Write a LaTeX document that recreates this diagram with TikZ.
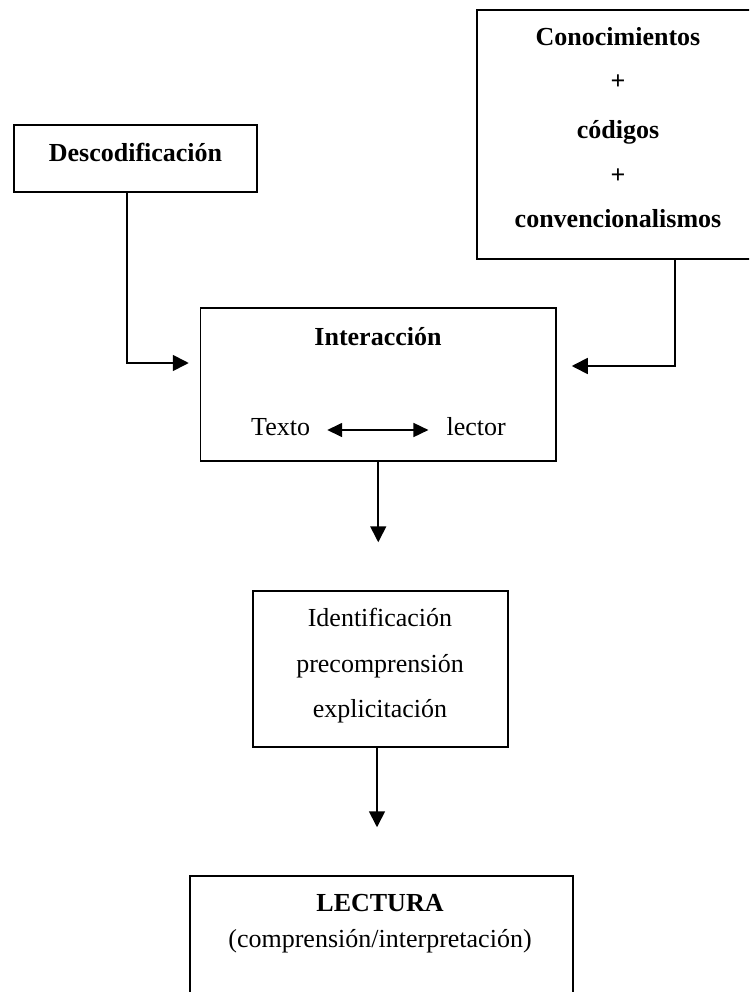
\documentclass[tikz,border=0pt]{standalone}
\usepackage{fontspec}
\setmainfont{Liberation Serif}
\usetikzlibrary{arrows.meta,calc}
\begin{document}
\begin{tikzpicture}[x=1pt,y=-1pt,
  box/.style={draw,line width=1.5pt,inner sep=0pt},
  txt/.style={inner sep=0pt,anchor=base,font=\fontsize{26}{30}\selectfont},
  btxt/.style={txt,font=\fontsize{26}{30}\selectfont\bfseries},
  conn/.style={line width=1.7pt,-{Triangle[length=16pt,width=16pt]}},
  dconn/.style={line width=1.7pt,{Triangle[length=15pt,width=14pt]}-{Triangle[length=15pt,width=14pt]}}]
\useasboundingbox (0,0) rectangle (749,992);
\clip (0,0) rectangle (749,992);
% boxes
\node[box,minimum width=243pt,minimum height=67pt] (desc) at (135.5,158.5) {};
\node[box,minimum width=282pt,minimum height=249pt] (con) at (618,134.5) {};
\node[box,minimum width=355.5pt,minimum height=153pt] (inter) at (378.25,384.5) {};
\node[box,minimum width=255pt,minimum height=156pt] (ident) at (380.5,669) {};
\node[box,minimum width=383pt,minimum height=128pt] (lect) at (381.5,940) {};
% texts
\node[btxt] (tdesc) at (135.5,162) {Descodificación};
\node[btxt] (c1) at (618,46) {Conocimientos};
\node[btxt] (c2) at (618,90) {+};
\node[btxt] (c3) at (618,139) {códigos};
\node[btxt] (c4) at (618,184) {+};
\node[btxt] (c5) at (618,228) {convencionalismos};
\node[btxt] (tinter) at (378,345) {Interacción};
\node[txt,anchor=base west] (texto) at (251,435) {Texto};
\node[txt,anchor=base east] (lector) at (506,435) {lector};
\node[txt] (i1) at (380,626) {Identificación};
\node[txt] (i2) at (380,672) {precomprensión};
\node[txt] (i3) at (380,717) {explicitación};
\node[btxt] (l1) at (380,911) {LECTURA};
\node[txt] (l2) at (380,947) {(comprensión/interpretación)};
% connectors
\draw[conn,shorten >=11pt] ($(desc.south)+(-8.5,0)$) |- ($(inter.west)+(0,-21.5)$);
\draw[conn,shorten >=15pt] ($(con.south)+(57,0)$) |- ($(inter.east)+(0,-18.5)$);
\draw[conn,shorten >=48pt] (inter.south) -- (inter.south |- ident.north);
\draw[conn,shorten >=48pt] ($(ident.south)+(-3.5,0)$) coordinate (p) -- (p |- lect.north);
\draw[dconn,shorten <=17pt,shorten >=18pt] ([yshift=5pt]texto.base east) -- ([yshift=5pt]lector.base west);
\end{tikzpicture}
\end{document}
